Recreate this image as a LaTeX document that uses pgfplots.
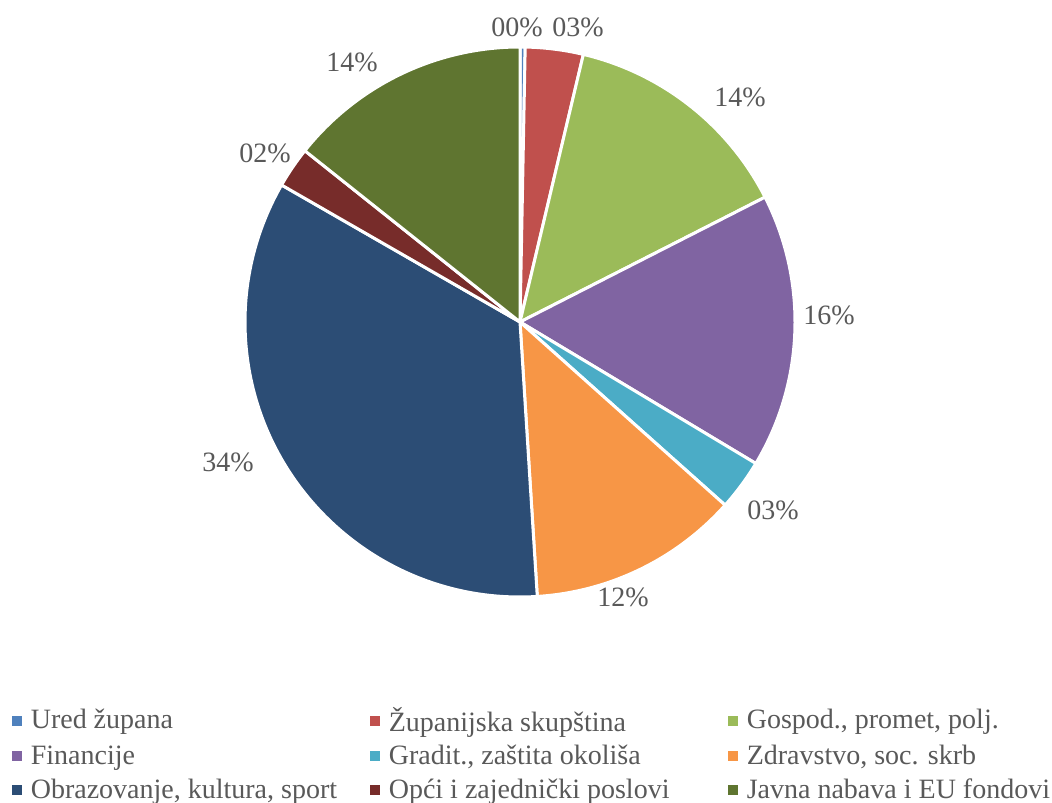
\documentclass[border=0pt]{standalone}
\usepackage{pgfplots}
\usepackage{pgfplotstable}
\pgfplotsset{compat=1.18}
\usepackage{fontspec}
\setmainfont{Liberation Serif}
\definecolor{c0}{HTML}{4F81BD}
\definecolor{c1}{HTML}{C0504D}
\definecolor{c2}{HTML}{9BBB59}
\definecolor{c3}{HTML}{8064A2}
\definecolor{c4}{HTML}{4BACC6}
\definecolor{c5}{HTML}{F79646}
\definecolor{c6}{HTML}{2C4D75}
\definecolor{c7}{HTML}{772C2A}
\definecolor{c8}{HTML}{5F7530}
\definecolor{txt}{HTML}{595959}

\pgfplotstableread[col sep=comma]{
name,value,lx,ly,lab
Ured,0.3,258.5,387.5,00
Zupanijska,3.4,289,387.5,03
Gospod,13.8,370,352.5,14
Financije,16.1,414.5,243.5,16
Gradit,3.0,386.5,146,03
Zdravstvo,12.4,311.5,102.5,12
Obrazovanje,34.3,114,170,34
Opci,2.4,132.5,324.5,02
Javna,14.3,176,370,14
}\piedata

\newcommand\legsq[2]{%
  \addlegendimage{legend image code/.code={\fill[#1] (0pt,-2.3pt) rectangle (4.6pt,2.3pt);}}%
  \addlegendentry{\makebox[169.5pt][l]{\hspace{4.4pt}#2}}}
\newcommand\legsqlast[2]{%
  \addlegendimage{legend image code/.code={\fill[#1] (0pt,-2.3pt) rectangle (4.6pt,2.3pt);}}%
  \addlegendentry{\hspace{4.4pt}#2}}

\begin{document}
\begin{tikzpicture}
\begin{axis}[
  x=1pt, y=1pt, scale only axis,
  xmin=0, xmax=526, ymin=0, ymax=401,
  hide axis, clip=false,
  legend columns=3,
  legend cell align=left,
  legend style={
    at={(axis cs:6,47.5)}, anchor=north west,
    draw=none, fill=none, inner sep=0pt, outer sep=0pt,
    font=\fontsize{14}{16}\selectfont, text=txt,
    row sep=5.5pt,
    nodes={inner sep=0pt, outer sep=0pt},
    /tikz/every odd column/.append style={column sep=0pt},
    /tikz/every even column/.append style={column sep=4.5pt},
  },
]
\path (axis cs:0,0) rectangle (axis cs:526,401);
\def\cum{0}
\pgfplotsforeachungrouped \i in {0,...,8}{%
  \pgfplotstablegetelem{\i}{value}\of\piedata
  \let\v\pgfplotsretval
  \pgfmathsetmacro\a{90-3.6*\cum}%
  \pgfmathsetmacro\b{90-3.6*(\cum+\v)}%
  \pgfmathsetmacro\cum{\cum+\v}%
  \edef\temp{\noexpand\fill[c\i, draw=white, line width=1.5pt, line join=round]
    (axis cs:260,240) -- ([shift={(\a:137.5pt)}]axis cs:260,240)
    arc[start angle=\a, end angle=\b, radius=137.5pt] -- cycle;}%
  \temp
}
\pgfplotsforeachungrouped \i in {0,...,8}{%
  \pgfplotstablegetelem{\i}{lx}\of\piedata \let\lx\pgfplotsretval
  \pgfplotstablegetelem{\i}{ly}\of\piedata \let\ly\pgfplotsretval
  \pgfplotstablegetelem{\i}{lab}\of\piedata \let\lab\pgfplotsretval
  \edef\temp{\noexpand\node[text=txt, font=\noexpand\fontsize{14}{16}\noexpand\selectfont, inner sep=0pt] at (axis cs:\lx,\ly) {\lab\noexpand\%};}%
  \temp
}
\legsq{c0}{Ured župana}
\legsq{c1}{Županijska skupština}
\legsqlast{c2}{Gospod., promet, polj.}
\legsq{c3}{Financije}
\legsq{c4}{Gradit., zaštita okoliša}
\legsqlast{c5}{Zdravstvo, soc. skrb}
\legsq{c6}{Obrazovanje, kultura, sport}
\legsq{c7}{Opći i zajednički poslovi}
\legsqlast{c8}{Javna nabava i EU fondovi}
\end{axis}
\end{tikzpicture}
\end{document}
